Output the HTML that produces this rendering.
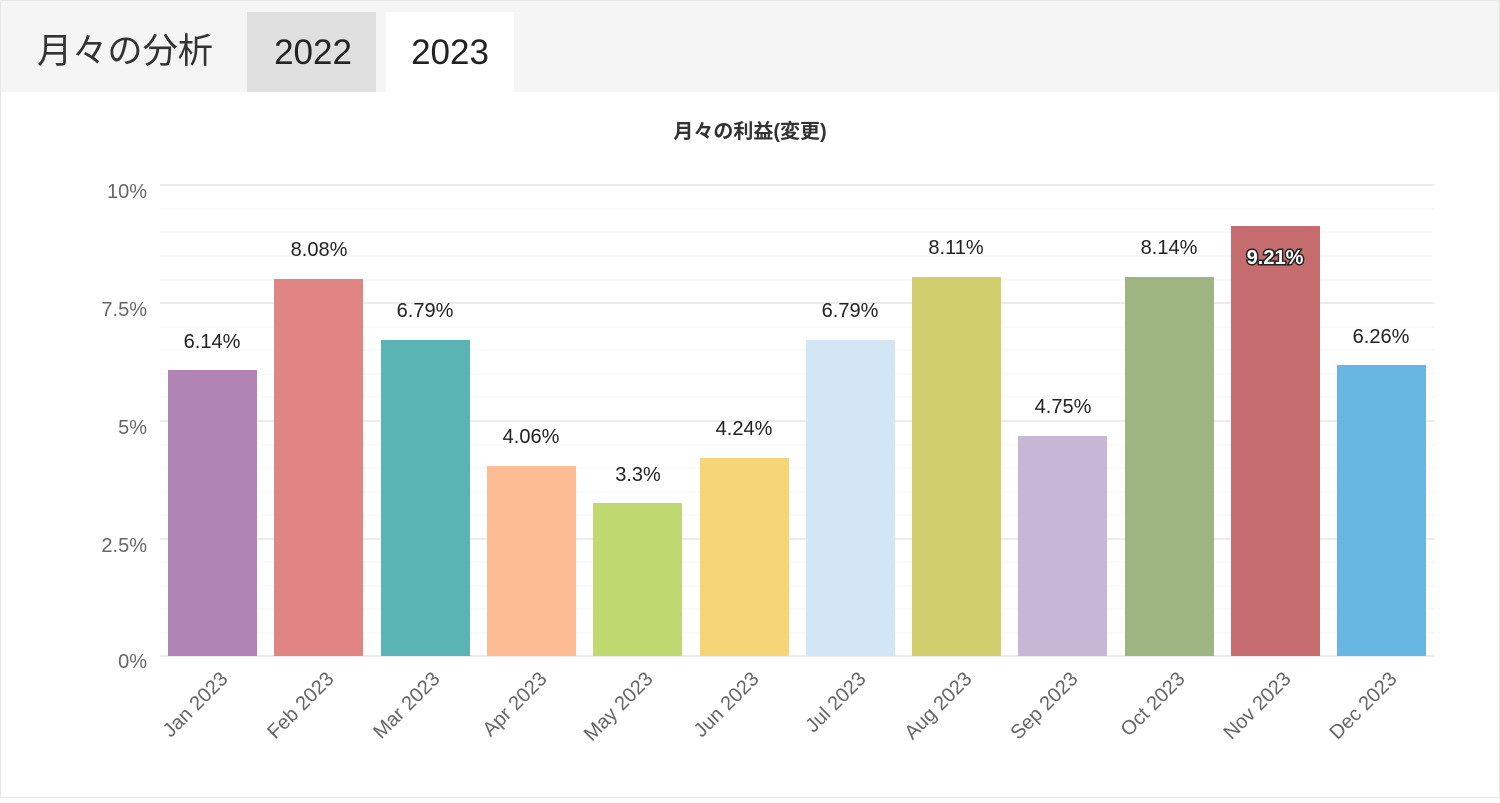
<!DOCTYPE html>
<html><head><meta charset="utf-8"><style>
body{margin:0;width:1500px;height:798px;background:#fff;overflow:hidden;font-family:"Liberation Sans","Noto Sans CJK JP",sans-serif}
</style></head><body>
<svg width="1500" height="798" xmlns="http://www.w3.org/2000/svg" font-family="Liberation Sans, Noto Sans CJK JP, sans-serif">
<rect x="0" y="0" width="1500" height="798" fill="#fff"/>
<rect x="0" y="0" width="1500" height="92" fill="#f5f5f5"/>
<rect x="0.5" y="0.5" width="1499" height="797" fill="none" stroke="#e6e6e6"/>
<text x="37" y="63" font-size="35" fill="#333" textLength="176" lengthAdjust="spacingAndGlyphs">月々の分析</text>
<rect x="247" y="12" width="129" height="80" fill="#e0e0e0"/>
<text x="313" y="64" font-size="35" fill="#222" text-anchor="middle">2022</text>
<rect x="386" y="12" width="128" height="80" fill="#fff"/>
<text x="450" y="64" font-size="35" fill="#222" text-anchor="middle">2023</text>
<text x="750" y="138" font-size="20" font-weight="bold" fill="#333" text-anchor="middle">月々の利益(変更)</text>
<g stroke="#f4f4f4" stroke-width="1">
<line x1="160" x2="1435" y1="209" y2="209"/><line x1="160" x2="1435" y1="232" y2="232"/><line x1="160" x2="1435" y1="256" y2="256"/><line x1="160" x2="1435" y1="280" y2="280"/>
<line x1="160" x2="1435" y1="327" y2="327"/><line x1="160" x2="1435" y1="350" y2="350"/><line x1="160" x2="1435" y1="374" y2="374"/><line x1="160" x2="1435" y1="397" y2="397"/>
<line x1="160" x2="1435" y1="445" y2="445"/><line x1="160" x2="1435" y1="468" y2="468"/><line x1="160" x2="1435" y1="492" y2="492"/><line x1="160" x2="1435" y1="515" y2="515"/>
<line x1="160" x2="1435" y1="562" y2="562"/><line x1="160" x2="1435" y1="586" y2="586"/><line x1="160" x2="1435" y1="609" y2="609"/><line x1="160" x2="1435" y1="633" y2="633"/>
</g>
<g stroke="#e6e6e6" stroke-width="1.5">
<line x1="160" x2="1435" y1="185" y2="185"/><line x1="160" x2="1435" y1="303" y2="303"/><line x1="160" x2="1435" y1="421" y2="421"/><line x1="160" x2="1435" y1="539" y2="539"/><line x1="160" x2="1435" y1="656" y2="656"/>
</g>
<g font-size="20" fill="#666" text-anchor="end">
<text x="147" y="198">10%</text><text x="147" y="316">7.5%</text><text x="147" y="434">5%</text><text x="147" y="552">2.5%</text><text x="147" y="668">0%</text>
</g>
<g>
<rect x="168" y="370" width="89" height="286" fill="#b085b5"/>
<rect x="274" y="279" width="89" height="377" fill="#e08583"/>
<rect x="381" y="340" width="89" height="316" fill="#5bb4b4"/>
<rect x="487" y="466" width="89" height="190" fill="#fdbc94"/>
<rect x="593" y="503" width="89" height="153" fill="#bfd86f"/>
<rect x="700" y="458" width="89" height="198" fill="#f6d576"/>
<rect x="806" y="340" width="89" height="316" fill="#d2e6f6"/>
<rect x="912" y="277" width="89" height="379" fill="#cfcd6c"/>
<rect x="1018" y="436" width="89" height="220" fill="#c7b6d6"/>
<rect x="1125" y="277" width="89" height="379" fill="#9fb581"/>
<rect x="1231" y="226" width="89" height="430" fill="#c56c6f"/>
<rect x="1337" y="365" width="89" height="291" fill="#68b7e2"/>
</g>
<g font-size="20" fill="#222" text-anchor="middle">
<text x="212" y="348">6.14%</text><text x="319" y="256">8.08%</text><text x="425" y="317">6.79%</text><text x="531" y="443">4.06%</text>
<text x="638" y="481">3.3%</text><text x="744" y="435">4.24%</text><text x="850" y="317">6.79%</text><text x="956" y="254">8.11%</text>
<text x="1063" y="413">4.75%</text><text x="1169" y="254">8.14%</text><text x="1381" y="343">6.26%</text>
<text x="1275" y="264" stroke="#222" stroke-width="3" font-weight="bold">9.21%</text>
<text x="1275" y="264" fill="#fff" font-weight="bold">9.21%</text>
</g>
<g font-size="20" fill="#666" text-anchor="end">
<text transform="translate(229,680) rotate(-45)">Jan 2023</text>
<text transform="translate(335,680) rotate(-45)">Feb 2023</text>
<text transform="translate(441,680) rotate(-45)">Mar 2023</text>
<text transform="translate(548,680) rotate(-45)">Apr 2023</text>
<text transform="translate(654,680) rotate(-45)">May 2023</text>
<text transform="translate(760,680) rotate(-45)">Jun 2023</text>
<text transform="translate(867,680) rotate(-45)">Jul 2023</text>
<text transform="translate(973,680) rotate(-45)">Aug 2023</text>
<text transform="translate(1079,680) rotate(-45)">Sep 2023</text>
<text transform="translate(1186,680) rotate(-45)">Oct 2023</text>
<text transform="translate(1292,680) rotate(-45)">Nov 2023</text>
<text transform="translate(1398,680) rotate(-45)">Dec 2023</text>
</g>
</svg>
</body></html>
